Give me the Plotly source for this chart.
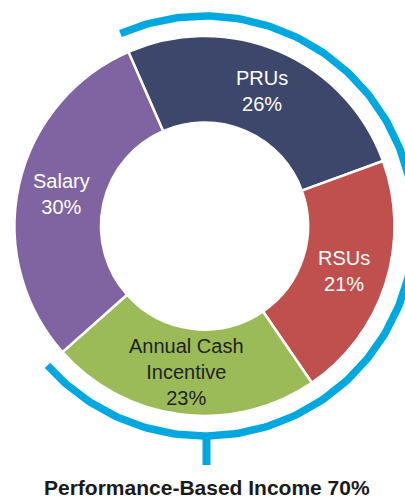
import math
import plotly.graph_objects as go

# ---- data ----
labels = ["PRUs", "RSUs", "Annual Cash Incentive", "Salary"]
label_lines = ["PRUs", "RSUs", "Annual Cash<br>Incentive", "Salary"]
values = [26, 21, 23, 30]
performance_based = ["PRUs", "RSUs", "Annual Cash Incentive"]
summary_label = "Performance-Based Income 70%"

# ---- style ----
colors = ["#3D476B", "#C0504D", "#9BBB59", "#8064A2"]
text_colors = ["#FFFFFF", "#FFFFFF", "#222222", "#FFFFFF"]
arc_color = "#00A8E0"
start_angle = -23.6  # degrees clockwise from 12 o'clock where first slice starts

W, H = 405, 500
cx, cy = 204.5, 226.0   # pie centre in pixels (y downward)
R = 190.0               # outer radius
hole = 0.545
arc_r = 210.0
tick_end = 465.0

fig = go.Figure()

fig.add_trace(go.Pie(
    labels=labels,
    values=values,
    sort=False,
    direction="clockwise",
    rotation=start_angle,
    hole=hole,
    marker=dict(colors=colors, line=dict(color="#FFFFFF", width=2.5)),
    textinfo="none",
    hoverinfo="label+percent",
    domain=dict(x=[(cx - R) / W, (cx + R) / W],
                y=[1 - (cy + R) / H, 1 - (cy - R) / H]),
    showlegend=False,
))

total = sum(values)
perf_total = sum(v for l, v in zip(labels, values) if l in performance_based)

# blue arc over performance-based share
a0 = start_angle
a1 = start_angle + 360.0 * perf_total / total
n = 240
ax_x, ax_y = [], []
for i in range(n + 1):
    a = math.radians(a0 + (a1 - a0) * i / n)
    ax_x.append(cx + arc_r * math.sin(a))
    ax_y.append(cy - arc_r * math.cos(a))
fig.add_trace(go.Scatter(x=ax_x, y=ax_y, mode="lines",
                         line=dict(color=arc_color, width=7.5),
                         hoverinfo="skip", showlegend=False))
# tick at bottom
fig.add_trace(go.Scatter(x=[cx + 2, cx + 2], y=[cy + arc_r, tick_end], mode="lines",
                         line=dict(color=arc_color, width=8),
                         hoverinfo="skip", showlegend=False))

# slice labels
annotations = []
cum = 0.0
r_lab = R * (1 + hole) / 2
for lab, v, tc in zip(label_lines, values, text_colors):
    mid = start_angle + 360.0 * (cum + v / 2) / total
    cum += v
    a = math.radians(mid)
    annotations.append(dict(
        x=cx + r_lab * math.sin(a), y=cy - r_lab * math.cos(a),
        xref="x", yref="y", showarrow=False,
        text=f"{lab}<br>{round(100 * v / total)}%",
        font=dict(family="Liberation Sans, Arial, sans-serif", size=20, color=tc),
        xanchor="center", yanchor="middle", align="center",
    ))

annotations.append(dict(
    x=cx + 2, y=487, xref="x", yref="y", showarrow=False,
    text=f"<b>{summary_label}</b>",
    font=dict(family="Liberation Sans, Arial, sans-serif", size=21, color="#1A1A1A"),
    xanchor="center", yanchor="middle",
))

fig.update_layout(
    width=W, height=H,
    margin=dict(l=0, r=0, t=0, b=0),
    paper_bgcolor="#FFFFFF", plot_bgcolor="rgba(0,0,0,0)",
    xaxis=dict(range=[0, W], visible=False, fixedrange=True, domain=[0, 1]),
    yaxis=dict(range=[H, 0], visible=False, fixedrange=True, domain=[0, 1]),
    annotations=annotations,
    showlegend=False,
)

fig.write_html("out.html")
